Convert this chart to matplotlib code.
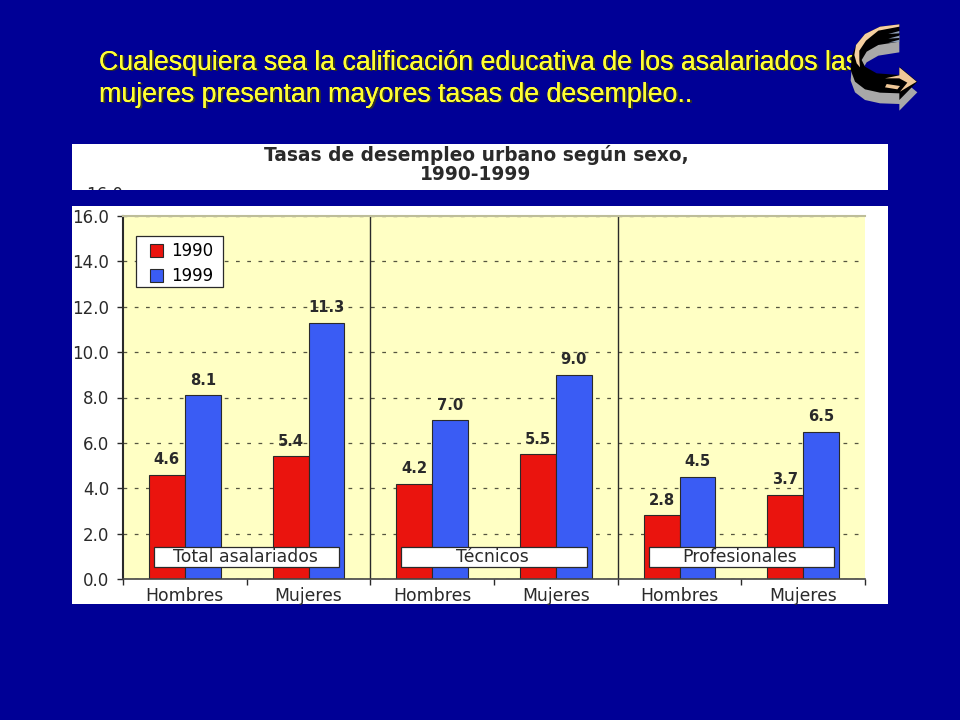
import matplotlib
matplotlib.use("Agg")
import matplotlib.pyplot as plt
from matplotlib.patches import Rectangle, Polygon
import numpy as np

categories = ["Hombres", "Mujeres", "Hombres", "Mujeres", "Hombres", "Mujeres"]
values_1990 = [4.6, 5.4, 4.2, 5.5, 2.8, 3.7]
values_1999 = [8.1, 11.3, 7.0, 9.0, 4.5, 6.5]
groups = ["Total asalariados", "Técnicos", "Profesionales"]
series_names = ["1990", "1999"]
yticks = [0, 2, 4, 6, 8, 10, 12, 14, 16]
title_lines = ["Cualesquiera sea la calificación educativa de los asalariados las",
               "mujeres presentan mayores tasas de desempleo.."]
chart_title = "Tasas de desempleo urbano según sexo,\n1990-1999"

NAVY = "#000096"
RED = "#EA140E"
BLUE = "#3A5CF4"
PALE = "#FFFFC4"
INK = "#2A2A2A"
W, H = 960, 720
fig = plt.figure(figsize=(9.6, 7.2), dpi=100, facecolor=NAVY)

def px_axes(z):
    a = fig.add_axes([0, 0, 1, 1], zorder=z)
    a.set_xlim(0, W); a.set_ylim(H, 0); a.axis("off")
    a.patch.set_alpha(0)
    return a

bg = px_axes(0)
for dx, col in ((1.6, "#33331f"), (0, "#FFFF33"), (0.35, "#FFFF33")):
    for i, line in enumerate(title_lines):
        bg.text(99 + dx, 62.5 + 32 * i + dx, line, color=col, fontsize=19.25,
                family="Liberation Sans", va="center", ha="left")
strip = Rectangle((72, 144), 816, 46, fc="white", ec="none")
bg.add_patch(strip)
bg.text(476, 164.5, chart_title, ha="center", va="center", fontsize=13.4,
        family="DejaVu Sans", weight="bold", color=INK, linespacing=1.0)
cut = bg.text(105, 195.5, "16.0", ha="center", va="center", fontsize=12,
              family="DejaVu Sans", color=INK)
cut.set_clip_on(True)
cut.set_clip_path(strip)
bg.add_patch(Rectangle((72, 206), 816, 398, fc="white", ec="none"))

# chart axes: x 123..865, y 216..579 px
ax = fig.add_axes([123 / W, 1 - 579 / H, (865 - 123) / W, (579 - 216) / H], zorder=1)
ax.set_facecolor(PALE)
x = np.arange(len(categories))
bw = 0.29
ax.set_xlim(-0.5, 5.5)
ax.set_ylim(0, 16)
ax.yaxis.grid(True, color="#55553f", linestyle=(0, (3, 6)), linewidth=0.9)
ax.set_axisbelow(True)
ax.bar(x - bw / 2, values_1990, bw, color=RED, edgecolor=INK, linewidth=0.8, label=series_names[0])
ax.bar(x + bw / 2, values_1999, bw, color=BLUE, edgecolor=INK, linewidth=0.8, label=series_names[1])
for offs, vals in ((-bw / 2, values_1990), (bw / 2, values_1999)):
    for xi, v in zip(x + offs, vals):
        ax.annotate(f"{v:.1f}", (xi, v), xytext=(0, 5.5), textcoords="offset points", ha="center",
                    va="bottom", fontsize=10.6, weight="bold", color=INK, family="DejaVu Sans")
ax.set_xticks(np.arange(-0.5, 6, 1))
ax.set_xticklabels([])
ax.set_xticks(x, categories, minor=True)
ax.tick_params(axis="x", which="major", length=4, width=1, color=INK)
ax.tick_params(axis="x", which="minor", length=0, pad=5.5, labelsize=12.4, labelcolor=INK)
ax.set_yticks(yticks, [f"{v:.1f}" for v in yticks])
ax.tick_params(axis="y", length=4.5, width=1, color=INK, labelsize=12, labelcolor=INK, pad=5.5)
ax.spines["right"].set_visible(False)
ax.spines["top"].set_color("#BDBD9A"); ax.spines["top"].set_linewidth(1.5)
ax.spines["left"].set_color(INK); ax.spines["left"].set_linewidth(1.5)
ax.spines["bottom"].set_color("#444444"); ax.spines["bottom"].set_linewidth(1.2)
for sx in (1.5, 3.5):
    ax.axvline(sx, color=INK, linewidth=1)
for gi, g in enumerate(groups):
    cx = 0.5 + 2 * gi
    ax.add_patch(Rectangle((cx - 0.75, 0.53), 1.5, 0.88, fc="white", ec=INK, lw=0.9, zorder=5))
    ax.text(cx - 0.01, 0.95, g, ha="center", va="center", fontsize=12.4, color=INK,
            family="DejaVu Sans", zorder=6)
# legend box 136..223 x 236..287 px, entries drawn inside it
ax.add_patch(Rectangle(((136 - 123) / 742, (579 - 287) / 363), 87 / 742, 51 / 363, transform=ax.transAxes,
                       fc="white", ec=INK, lw=0.9, zorder=4.5))
leg = ax.legend(loc="upper left", bbox_to_anchor=((150 - 123) / 742, (579 - 242) / 363), fontsize=12,
                frameon=False, borderaxespad=0, handlelength=0.8, handleheight=0.8, handletextpad=0.45,
                labelspacing=0.42, borderpad=0)

# decorative return-arrow icon
top = px_axes(3)
sx, sy = 820, 10
def P(pts, c, z, dx=0, dy=0):
    top.add_patch(Polygon([(sx + (a + dx) / 3, sy + (b + dy) / 3) for a, b in pts], closed=True,
                          fc=c, ec="none", zorder=z))
body = [(238,43),(180,50),(135,72),(108,105),(95,140),(92,180),(105,215),(135,238),(180,248),(238,250),
        (238,270),(292,215),(238,170),(238,195),(170,190),(135,170),(125,150),(140,125),(175,105),(238,95)]
P(body, "#A8A8A8", 1, 0, 32)
P(body, "#000000", 2)
P([(238,43),(180,50),(135,72),(108,105),(103,135),(110,160),(120,172),(118,150),(118,122),(138,92),(175,62),(238,50)],
  "#F5CFA0", 3)
P([(238,172),(290,215),(240,245),(262,218),(238,205),(195,205),(238,196)], "#F0C898", 3)
P([(200,222),(240,228),(232,238),(195,232)], "#F0C898", 3)
for yb in (68, 82, 94):
    P([(205, yb + 4), (238, yb - 5), (238, yb + 2)], "#8FA0B8", 3)

fig.savefig("out.png", dpi=100, facecolor=fig.get_facecolor())
